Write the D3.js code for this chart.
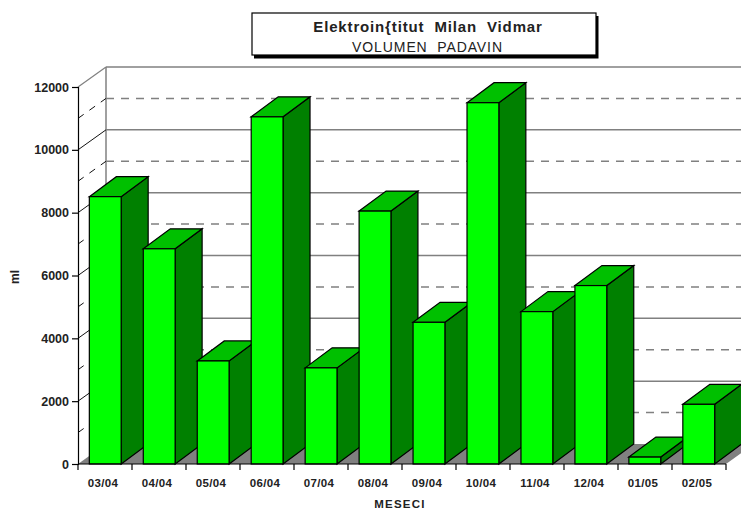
<!DOCTYPE html>
<html><head><meta charset="utf-8"><script src="https://cdn.jsdelivr.net/npm/d3@7"></script>
<style>html,body{margin:0;padding:0;background:#fff}svg{display:block}text{font-family:"Liberation Sans",Arial,sans-serif;fill:#222}</style></head><body>
<svg id="c" width="741" height="511"></svg>
<script>
const categories=["03/04","04/04","05/04","06/04","07/04","08/04","09/04","10/04","11/04","12/04","01/05","02/05"];
const values=[8510,6850,3280,11050,3060,8050,4510,11500,4850,5680,220,1900];
const yTicks=[0,2000,4000,6000,8000,10000,12000];
const dashedLevels=[1000,3000,5000,7000,9000,11000];
const titleLines=["Elektroin{titut  Milan  Vidmar","VOLUMEN  PADAVIN"];
const xTitle="MESECI", yTitle="ml";

const svg=d3.select("#c");
const W=741,H=511,L=78,R=726,T=87,B=464,DX=28,DY=20;
const x=d3.scaleBand().domain(categories).range([L,R]).paddingInner(0.41).paddingOuter(0.21);
const xEdge=d3.scaleBand().domain(categories).range([L,R]);
const y=d3.scaleLinear().domain([0,12000]).range([B,T]);
const g=svg.append("g");
const GR="#808080";
g.append("path").attr("d",`M${L},${B}L${L+DX},${B-DY}L${R+DX},${B-DY}L${R},${B}Z`).attr("fill",GR);
g.append("line").attr("x1",L+DX).attr("x2",L+DX).attr("y1",y(12000)-DY).attr("y2",B-DY).attr("stroke",GR).attr("stroke-width",1.5);
g.append("line").attr("x1",L+DX).attr("x2",W).attr("y1",y(12000)-DY).attr("y2",y(12000)-DY).attr("stroke",GR).attr("stroke-width",1.5);
yTicks.slice(1,-1).forEach(v=>{
 g.append("line").attr("x1",L).attr("y1",y(v)).attr("x2",L+DX).attr("y2",y(v)-DY).attr("stroke","#111").attr("stroke-width",1);
 g.append("line").attr("x1",L+DX).attr("y1",y(v)-DY).attr("x2",W).attr("y2",y(v)-DY).attr("stroke",GR).attr("stroke-width",1.5);
});
g.append("line").attr("x1",L).attr("y1",y(12000)).attr("x2",L+DX).attr("y2",y(12000)-DY).attr("stroke",GR).attr("stroke-width",1.2);
dashedLevels.forEach(v=>{
 g.append("line").attr("x1",L).attr("y1",y(v)).attr("x2",L+DX).attr("y2",y(v)-DY).attr("stroke","#111").attr("stroke-dasharray","7 7").attr("stroke-width",1);
 g.append("line").attr("x1",L+DX).attr("y1",y(v)-DY).attr("x2",W).attr("y2",y(v)-DY).attr("stroke",GR).attr("stroke-width",1.5).attr("stroke-dasharray","8 7");
});
const bw=x.bandwidth();
const bars=g.selectAll("g.bar").data(categories.map((c,i)=>({c,v:values[i]}))).join("g").attr("class","bar");
const DBX=27;
bars.append("path").attr("fill","#008000").attr("stroke","#000").attr("stroke-width",1.2)
 .attr("d",d=>{const r=x(d.c)+bw,t=y(d.v);return `M${r},${t}L${r+DBX},${t-DY}L${r+DBX},${B-DY}L${r},${B}Z`});
bars.append("path").attr("fill","#00c000").attr("stroke","#000").attr("stroke-width",1.2)
 .attr("d",d=>{const l=x(d.c),r=l+bw,t=y(d.v);return `M${l},${t}L${l+DBX},${t-DY}L${r+DBX},${t-DY}L${r},${t}Z`});
bars.append("rect").attr("fill","#00ff00").attr("stroke","#000").attr("stroke-width",1.2)
 .attr("x",d=>x(d.c)).attr("y",d=>y(d.v)).attr("width",bw).attr("height",d=>B-y(d.v));
const ya=g.append("g").attr("transform",`translate(${L},0)`).call(d3.axisLeft(y).tickValues(yTicks).tickSize(6).tickPadding(3).tickFormat(d3.format("d")));
ya.selectAll("path,line").attr("stroke","#000").attr("stroke-width",1.2);
ya.selectAll("text").attr("font-size",12.5).attr("font-weight","bold").attr("font-family",'"Liberation Sans"');
const xa=g.append("g").attr("transform",`translate(0,${B})`).call(d3.axisBottom(xEdge).tickSize(6).tickPadding(9).tickFormat(d=>d));
xa.select("path").attr("d",`M${L},0H${R}`).attr("stroke","#000").attr("stroke-width",1.2);
xa.selectAll(".tick line").attr("x1",-xEdge.bandwidth()/2).attr("x2",-xEdge.bandwidth()/2).attr("stroke","#000").attr("stroke-width",1.2);
g.append("line").attr("x1",R).attr("x2",R).attr("y1",B).attr("y2",B+6).attr("stroke","#000").attr("stroke-width",1.2);
xa.selectAll(".tick text").attr("font-size",11.5).attr("font-weight","bold").attr("font-family",'"Liberation Sans"').attr("letter-spacing",0.3).attr("dx",-2);
g.append("text").attr("x",400).attr("y",508).attr("text-anchor","middle").attr("font-size",11.5).attr("font-weight","bold").attr("letter-spacing",1.2).text(xTitle);
g.append("text").attr("transform","translate(19,277) rotate(-90)").attr("text-anchor","middle").attr("font-size",12).attr("font-weight","bold").text(yTitle);
g.append("rect").attr("x",254).attr("y",16).attr("width",344.5).attr("height",42.5).attr("fill","#000");
g.append("rect").attr("x",252).attr("y",13).attr("width",344).attr("height",42).attr("fill","#fff").attr("stroke","#000").attr("stroke-width",1.2);
g.append("text").attr("x",428).attr("y",31.5).attr("text-anchor","middle").attr("font-size",15).attr("font-weight","bold").attr("letter-spacing",0.85).style("white-space","pre").text(titleLines[0]);
g.append("text").attr("x",427.5).attr("y",51.5).attr("text-anchor","middle").attr("font-size",14).attr("letter-spacing",0.9).style("white-space","pre").text(titleLines[1]);
</script></body></html>
